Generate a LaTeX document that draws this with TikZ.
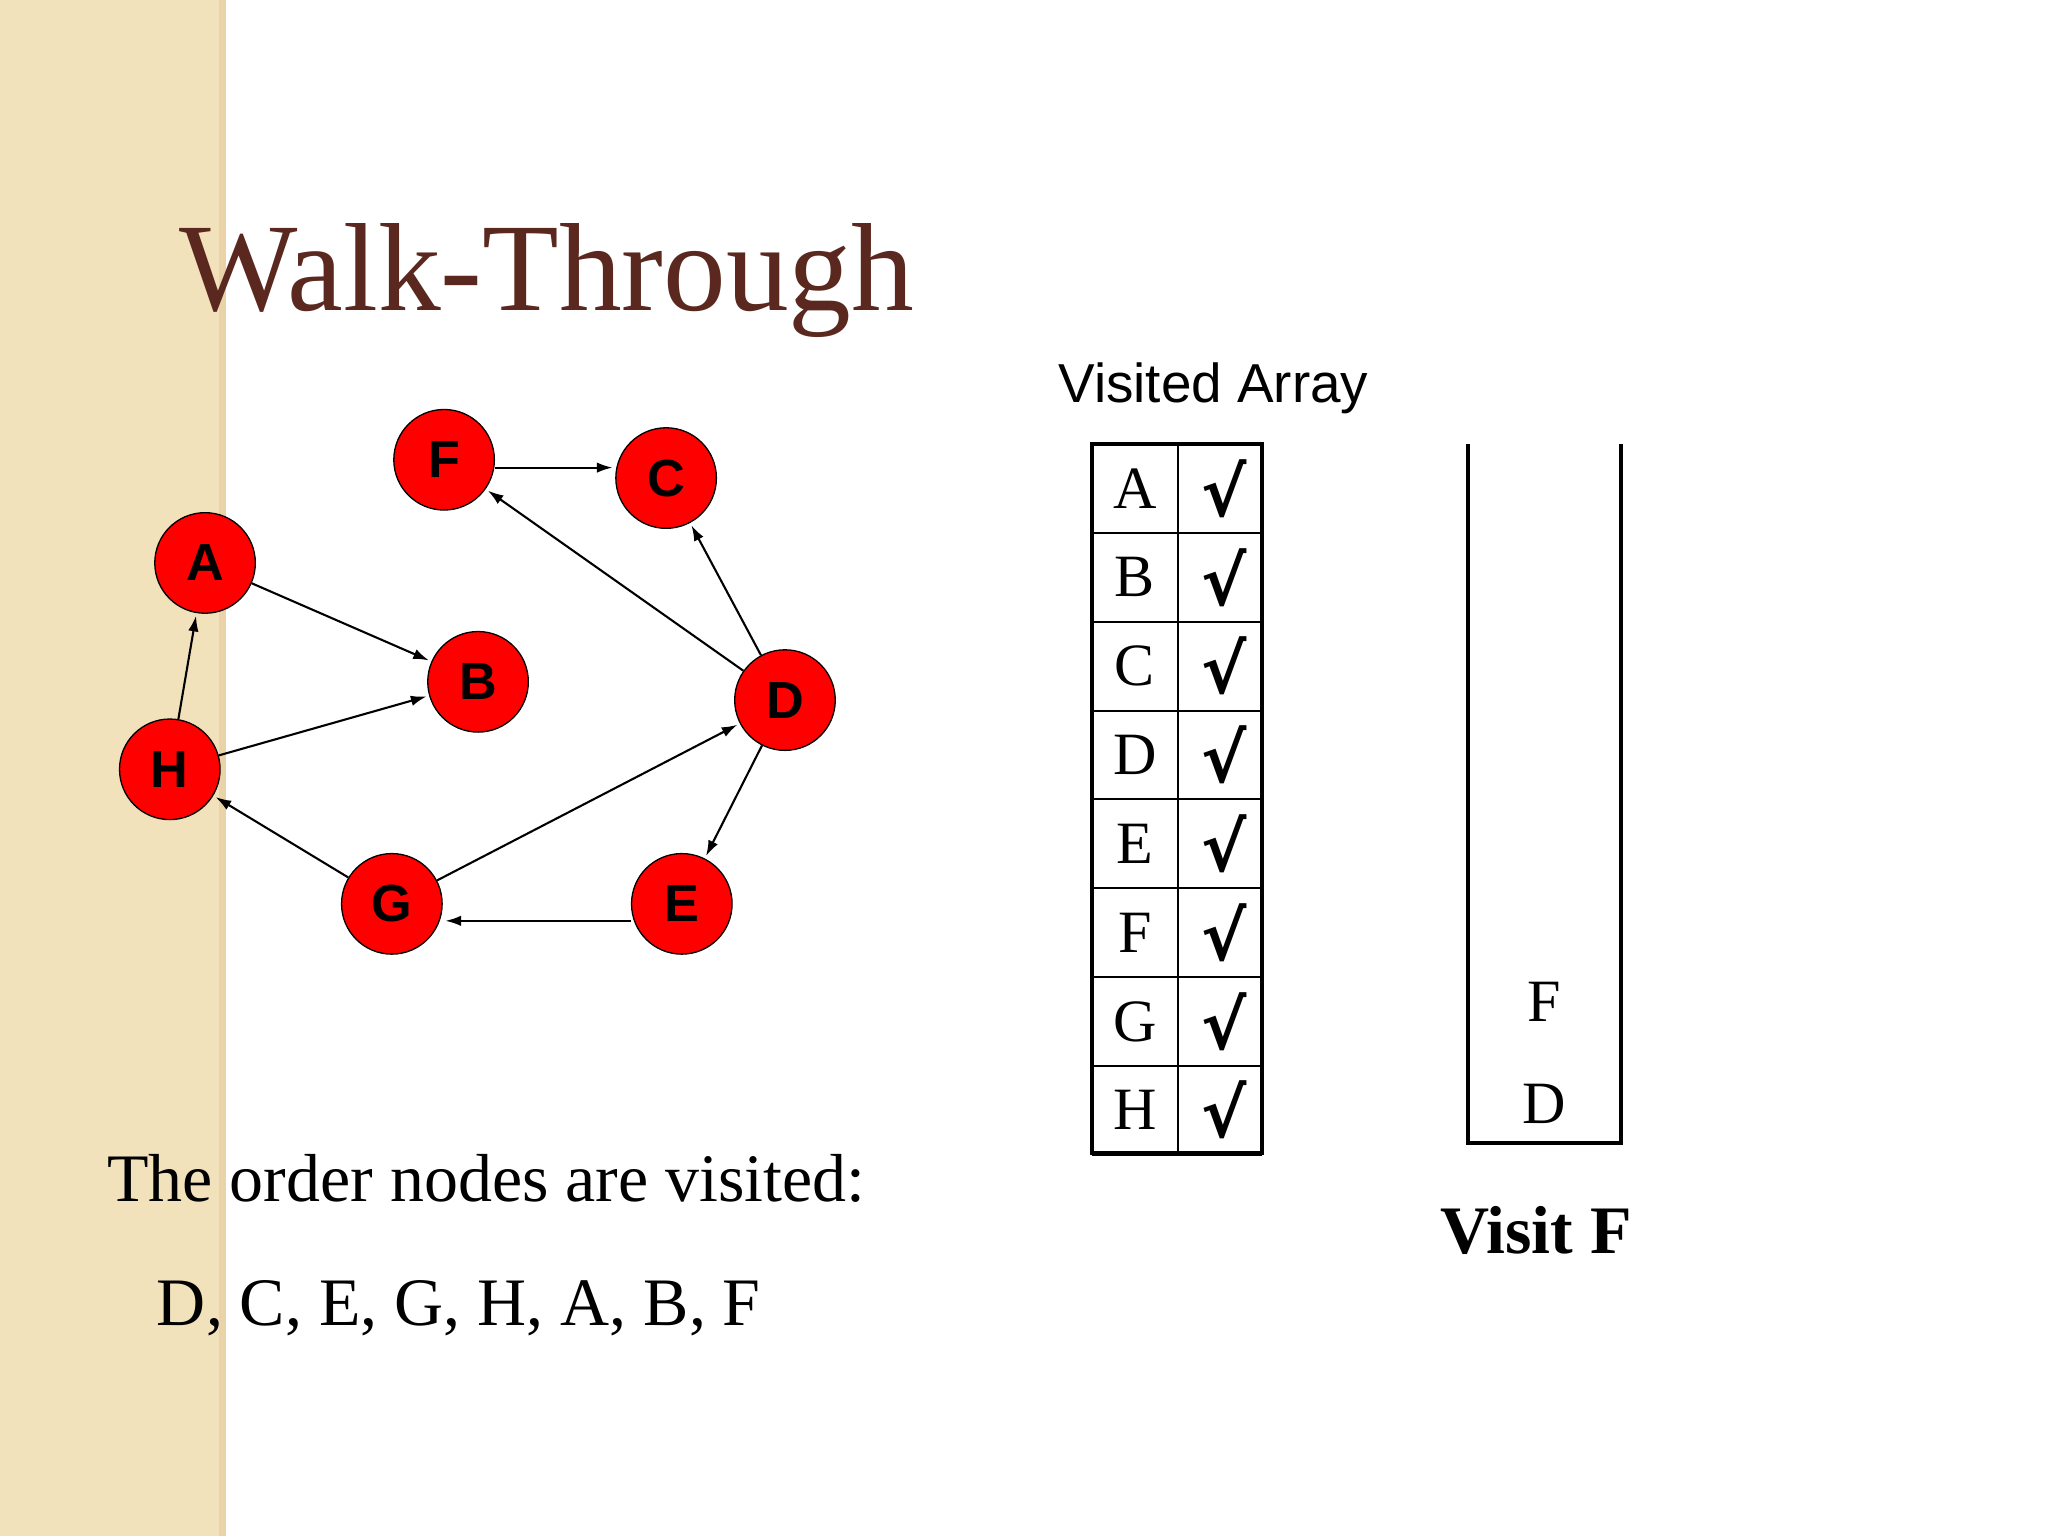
\documentclass[tikz,border=0pt]{standalone}
\usepackage{fontspec}
\setmainfont{Liberation Serif}
\newfontfamily\arial{Liberation Sans}
\newfontfamily\djvfont{DejaVu Sans}
\usetikzlibrary{arrows.meta}
\definecolor{strip}{RGB}{242,226,188}
\definecolor{titlec}{RGB}{90,40,30}
\begin{document}
\begin{tikzpicture}[x=1pt,y=-1pt,
  vert/.style={circle,draw=black,line width=1pt,fill=red,minimum size=77pt,inner sep=0pt,font=\arial\bfseries\fontsize{40}{40}\selectfont},
  edge/.style={-{Latex[length=12pt,width=8pt]},line width=1.6pt,shorten >=2pt},
  cellL/.style={font=\fontsize{46}{46}\selectfont},
  chk/.style={font=\djvfont\bfseries\fontsize{52}{52}\selectfont}]
\useasboundingbox (0,0) rectangle (1568,1176);
\fill[white] (0,0) rectangle (1568,1176);
\fill[strip] (0,0) rectangle (173,1176);
\fill[strip!85!brown] (168,0) rectangle (173,1176);
\node[anchor=base west,text=titlec,font=\fontsize{96}{96}\selectfont,inner sep=0pt] (title) at (137,238) {Walk-Through};
\node[vert] (F) at (340,352) {F};
\node[vert] (C) at (510,366) {C};
\node[vert] (A) at (157,431) {A};
\node[vert] (B) at (366,522) {B};
\node[vert] (D) at (601,536) {D};
\node[vert] (H) at (130,589) {H};
\node[vert] (G) at (300,692) {G};
\node[vert] (E) at (522,692) {E};
\draw[edge] (F.east |- 0,358) -- (C.west |- 0,358);
\draw[edge] (D) -- (F);
\draw[edge] (D) -- (C);
\draw[edge] (A) -- (B);
\draw[edge] (H) -- (B);
\draw[edge] (H) -- (A);
\draw[edge] (D) -- (E);
\draw[edge] (E.west |- 0,705) -- (G.east |- 0,705);
\draw[edge] (G) -- (H);
\draw[edge] (G) -- (D);
\node[font=\arial\fontsize{42}{42}\selectfont] (va) at (929,297) {Visited Array};
\foreach \l [count=\i] in {A,B,C,D,E,F,G,H}{
  \node[cellL] (l\i) at (869,{340+68*(\i-0.5)}) {\l};
  \node[chk] (c\i) at (937,{340+68*(\i-0.5)}) {√};
  \draw[line width=1.5pt] (836,{340+68*\i}) -- (966,{340+68*\i});
}
\draw[line width=1.5pt] (902,340) -- (902,883);
\draw[line width=3pt] (836,340) rectangle (966,883);
\draw[line width=3pt] (1124,340) -- (1124,875) -- (1241,875) -- (1241,340);
\node[cellL] (sF) at (1182,767) {F};
\node[cellL] (sD) at (1182,845) {D};
\node[font=\bfseries\fontsize{52}{52}\selectfont] (visit) at (1176,942) {Visit F};
\node[anchor=base west,inner sep=0pt,font=\fontsize{52}{52}\selectfont] (ord) at (82,920) {The order nodes are visited:};
\node[anchor=base west,inner sep=0pt,font=\fontsize{52}{52}\selectfont] (seq) at (120,1015) {D, C, E, G, H, A, B, F};
\end{tikzpicture}
\end{document}
